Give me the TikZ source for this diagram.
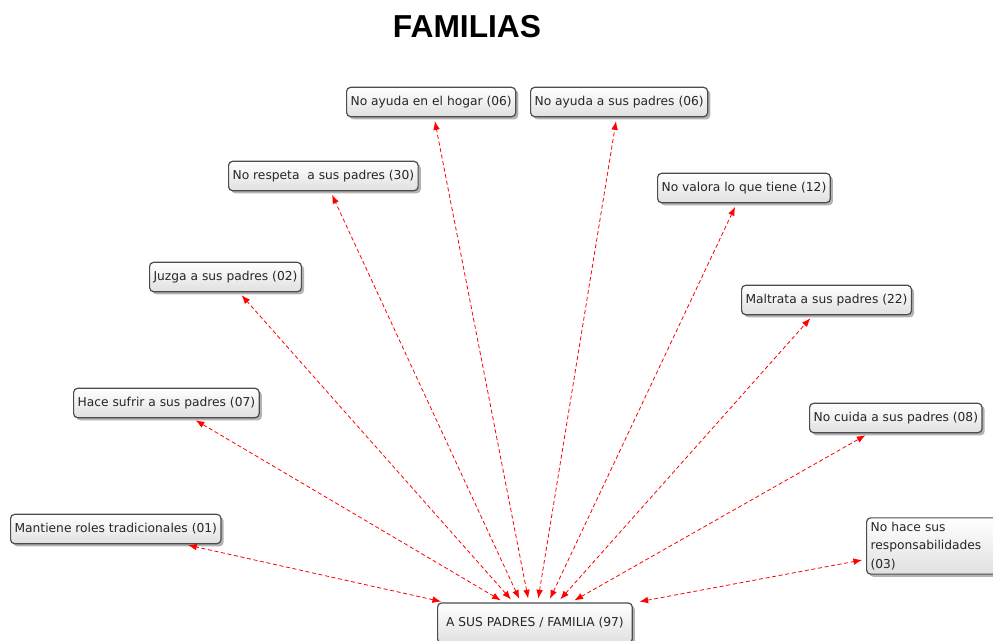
\documentclass[tikz,border=0pt]{standalone}
\usepackage{fontspec}
\setmainfont{DejaVu Sans}
\newfontfamily\titlefont{Liberation Sans}
\usepackage{tikz}
\usetikzlibrary{shadows}
\usetikzlibrary{arrows.meta}

\tikzset{
  caja/.style={draw=black!70, line width=0.9pt, rounded corners=3pt, anchor=west,
    top color=white, bottom color=black!12, inner xsep=3pt, inner ysep=3pt,
    minimum height=22pt,
    font=\fontsize{9.2}{14}\selectfont, text=black!85, align=left,
    drop shadow={shadow xshift=2pt, shadow yshift=-2pt, opacity=0.6}},
  flecha/.style={red, densely dashed, line width=0.6pt,
    {Latex[length=6.5pt,width=5pt]}-{Latex[length=6.5pt,width=5pt]},
    shorten >=3pt, shorten <=3pt}
}

\begin{document}
\begin{tikzpicture}[x=0.75pt, y=-0.75pt]
  \useasboundingbox (0,0) rectangle (993,640);
  \node[font=\titlefont\bfseries\fontsize{23.8}{26}\selectfont] (titulo) at (467,27) {FAMILIAS};

  \node[caja] (hogar) at (346,102) {No ayuda en el hogar (06)};
  \node[caja] (ayuda) at (530,102) {No ayuda a sus padres (06)};
  \node[caja] (respeta) at (228,176) {No respeta\ \ a sus padres (30)};
  \node[caja] (valora) at (657,188) {No valora lo que tiene (12)};
  \node[caja] (juzga) at (149,277) {Juzga a sus padres (02)};
  \node[caja] (maltrata) at (741,300) {Maltrata a sus padres (22)};
  \node[caja] (sufrir) at (73,403) {Hace sufrir a sus padres (07)};
  \node[caja] (cuida) at (809,418) {No cuida a sus padres (08)};
  \node[caja] (roles) at (10,529) {Mantiene roles tradicionales (01)};
  \node[caja, text width=100pt] (resp) at (866,546) {No hace sus\\responsabilidades\\(03)};
  \node[caja, minimum height=30pt, minimum width=146pt] (familia) at (437,623) {A SUS PADRES / FAMILIA (97)};

  \draw[flecha] ([xshift=-4.5pt]familia.north) -- (hogar);
  \draw[flecha] ([xshift=2pt]familia.north) -- (ayuda);
  \draw[flecha] ([xshift=-10.5pt]familia.north) -- (respeta);
  \draw[flecha] ([xshift=10pt]familia.north) -- (valora);
  \draw[flecha] ([xshift=-16pt]familia.north) -- (juzga);
  \draw[flecha] ([xshift=17pt]familia.north) -- (maltrata);
  \draw[flecha] ([xshift=-23pt]familia.north) -- (sufrir);
  \draw[flecha] ([xshift=27pt]familia.north) -- (cuida);
  \draw[flecha] ([xshift=6pt]familia.north west) -- (roles);
  \draw[flecha] ([xshift=2pt]familia.north east) -- (resp);
\end{tikzpicture}
\end{document}
